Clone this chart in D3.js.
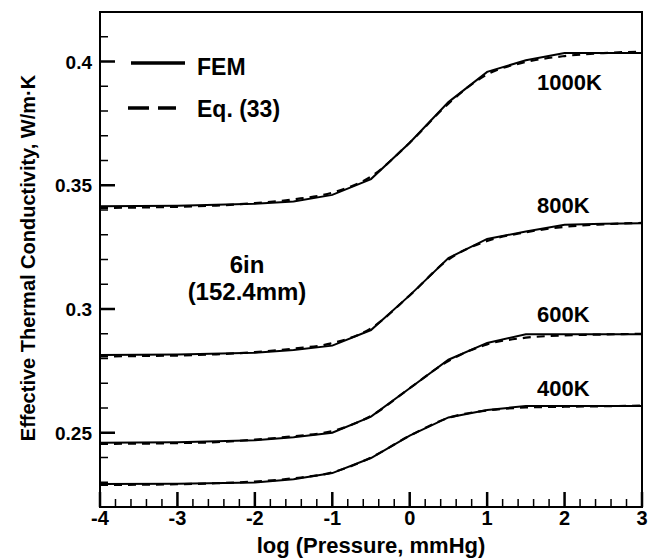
<!DOCTYPE html>
<html>
<head>
<meta charset="utf-8">
<script src="https://cdn.jsdelivr.net/npm/d3@7"></script>
<style>
  body { margin: 0; background: #fff; }
  text { font-family: 'Liberation Sans', Arial, sans-serif; font-weight: bold; fill: #000; }
</style>
</head>
<body>
<svg id="chart" width="658" height="560"></svg>
<script>
// FEM results (piecewise linear)
const femX = [-4, -3, -2, -1.5, -1, -0.5, 0, 0.5, 1, 1.5, 2, 2.5, 3];
const fem1000 = [0.3415, 0.3417, 0.3425, 0.3434, 0.3461, 0.3525, 0.3672, 0.3836, 0.3958, 0.4005, 0.4034, 0.4034, 0.4034];
const fem800 = [0.2814, 0.2816, 0.2823, 0.2834, 0.2852, 0.2915, 0.3055, 0.3206, 0.3283, 0.3313, 0.3340, 0.3344, 0.3346];
const fem600 = [0.2460, 0.2462, 0.2470, 0.2482, 0.2500, 0.2565, 0.2680, 0.2795, 0.2863, 0.2898, 0.2898, 0.2898, 0.2898];
const fem400 = [0.2293, 0.2294, 0.2299, 0.2312, 0.2337, 0.2398, 0.2488, 0.2562, 0.2592, 0.2608, 0.2608, 0.2608, 0.2608];

// Eq. (33) (smooth)
const eqX = [-4, -3.5, -3, -2.5, -2, -1.5, -1, -0.5, 0, 0.5, 1, 1.5, 2, 2.5, 3];
const eq1000 = [0.3408, 0.3410, 0.3413, 0.3418, 0.3428, 0.3443, 0.3470, 0.3535, 0.3672, 0.3830, 0.3948, 0.3998, 0.4022, 0.4034, 0.4040];
const eq800 = [0.2808, 0.2810, 0.2812, 0.2817, 0.2826, 0.2840, 0.2862, 0.2922, 0.3055, 0.3200, 0.3275, 0.3310, 0.3332, 0.3342, 0.3348];
const eq600 = [0.2455, 0.2456, 0.2458, 0.2462, 0.2472, 0.2486, 0.2507, 0.2568, 0.2680, 0.2790, 0.2857, 0.2884, 0.2893, 0.2897, 0.2900];
const eq400 = [0.2289, 0.2290, 0.2292, 0.2296, 0.2303, 0.2316, 0.2340, 0.2400, 0.2488, 0.2560, 0.2590, 0.2602, 0.2605, 0.2607, 0.2610];

const curveLabels = ['1000K', '800K', '600K', '400K'];
const xTicks = [-4, -3, -2, -1, 0, 1, 2, 3];
const yTicks = [0.25, 0.3, 0.35, 0.4];
const yTickLabels = ['0.25', '0.3', '0.35', '0.4'];
const xMinor = [-3.8, -3.6, -3.4, -3.2, -2.8, -2.6, -2.4, -2.2, -1.8, -1.6, -1.4, -1.2,
  -0.8, -0.6, -0.4, -0.2, 0.2, 0.4, 0.6, 0.8, 1.2, 1.4, 1.6, 1.8, 2.2, 2.4, 2.6, 2.8];
const yMinor = [0.23, 0.24, 0.26, 0.27, 0.28, 0.29, 0.31, 0.32, 0.33, 0.34, 0.36, 0.37, 0.38, 0.39, 0.41];

const svg = d3.select('#chart');
const margin = { top: 12, right: 16, bottom: 53, left: 100 };
const width = 658, height = 560;

const x = d3.scaleLinear().domain([-4, 3]).range([margin.left, width - margin.right]);
const y = d3.scaleLinear().domain([0.22, 0.42]).range([height - margin.bottom, margin.top]);

// frame
svg.append('rect')
  .attr('x', x(-4))
  .attr('y', y(0.42))
  .attr('width', x(3) - x(-4))
  .attr('height', y(0.22) - y(0.42))
  .attr('fill', 'none')
  .attr('stroke', '#000')
  .attr('stroke-width', 2);

// ticks point inward (drawn as thin rects)
const tickG = svg.append('g');
const addXTicks = (vals, len, w) => {
  tickG.selectAll(null)
    .data(vals)
    .enter()
    .append('rect')
    .attr('x', (d) => x(d) - w / 2)
    .attr('y', y(0.22) - len)
    .attr('width', w)
    .attr('height', len)
    .attr('fill', '#000');
};
const addYTicks = (vals, len, w) => {
  tickG.selectAll(null)
    .data(vals)
    .enter()
    .append('rect')
    .attr('x', x(-4))
    .attr('y', (d) => y(d) - w / 2)
    .attr('width', len)
    .attr('height', w)
    .attr('fill', '#000');
};
addXTicks(xMinor, 8, 1.5);
addXTicks(xTicks, 15, 2.5);
addYTicks(yMinor, 8, 1.5);
addYTicks(yTicks, 15, 2.5);

// tick labels
svg.selectAll('.xlab')
  .data(xTicks)
  .enter()
  .append('text')
  .attr('x', (d) => x(d))
  .attr('y', 525)
  .attr('text-anchor', 'middle')
  .style('font-size', '20px')
  .text((d) => d);

svg.selectAll('.ylab')
  .data(yTicks)
  .enter()
  .append('text')
  .attr('x', 92)
  .attr('y', (d) => y(d) + 7)
  .attr('text-anchor', 'end')
  .style('font-size', '19px')
  .text((d, i) => yTickLabels[i]);

// curves
const femLine = d3.line().x((d) => x(d[0])).y((d) => y(d[1]));
const eqLine = d3.line().x((d) => x(d[0])).y((d) => y(d[1])).curve(d3.curveMonotoneX);

const femSeries = [fem1000, fem800, fem600, fem400];
const eqSeries = [eq1000, eq800, eq600, eq400];

eqSeries.forEach((s) => {
  svg.append('path')
    .datum(eqX.map((v, i) => [v, s[i]]))
    .attr('fill', 'none')
    .attr('stroke', '#000')
    .attr('stroke-width', 2.2)
    .attr('stroke-dasharray', '8,6')
    .attr('d', eqLine);
});

femSeries.forEach((s) => {
  svg.append('path')
    .datum(femX.map((v, i) => [v, s[i]]))
    .attr('fill', 'none')
    .attr('stroke', '#000')
    .attr('stroke-width', 2)
    .attr('d', femLine);
});

// curve labels
const labelY = [90, 213, 322, 396];
curveLabels.forEach((t, i) => {
  svg.append('text')
    .attr('x', 537)
    .attr('y', labelY[i])
    .style('font-size', '22px')
    .text(t);
});

// legend
svg.append('line')
  .attr('x1', 131).attr('x2', 185)
  .attr('y1', 63).attr('y2', 63)
  .attr('stroke', '#000')
  .attr('stroke-width', 3.5);
svg.append('text')
  .attr('x', 197).attr('y', 75)
  .style('font-size', '23px')
  .text('FEM');

svg.append('line')
  .attr('x1', 128).attr('x2', 176)
  .attr('y1', 108).attr('y2', 108)
  .attr('stroke', '#000')
  .attr('stroke-width', 3.5)
  .attr('stroke-dasharray', '21,9');
svg.append('text')
  .attr('x', 197).attr('y', 117)
  .style('font-size', '23px')
  .text('Eq. (33)');

// annotation
svg.append('text')
  .attr('x', 247).attr('y', 273)
  .attr('text-anchor', 'middle')
  .style('font-size', '24px')
  .text('6in');
svg.append('text')
  .attr('x', 247).attr('y', 300)
  .attr('text-anchor', 'middle')
  .style('font-size', '24px')
  .text('(152.4mm)');

// axis titles
svg.append('text')
  .attr('x', (x(-4) + x(3)) / 2)
  .attr('y', 553)
  .attr('text-anchor', 'middle')
  .style('font-size', '22px')
  .text('log (Pressure, mmHg)');

svg.append('text')
  .attr('transform', 'rotate(-90)')
  .attr('x', -258)
  .attr('y', 35)
  .attr('text-anchor', 'middle')
  .style('font-size', '20px')
  .text('Effective Thermal Conductivity, W/m·K');
</script>
</body>
</html>
